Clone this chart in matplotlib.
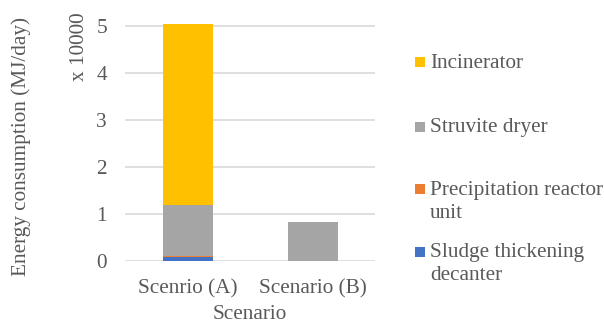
import matplotlib
matplotlib.use("Agg")
import matplotlib.pyplot as plt
from matplotlib.patches import Rectangle
import numpy as np

plt.rcParams['font.family'] = ['Liberation Serif', 'DejaVu Serif']

categories = ["Scenrio (A)", "Scenario (B)"]
series_names = ["Sludge thickening\ndecanter", "Precipitation reactor\nunit",
                "Struvite dryer", "Incinerator"]
sludge = [0.07, 0.0]
precipitation = [0.03, 0.0]
struvite = [1.09, 0.83]
incinerator = [3.86, 0.0]
yticks = [0, 1, 2, 3, 4, 5]

colors = ["#4472C4", "#ED7D31", "#A5A5A5", "#FFC000"]
text_color = "#595959"
W, H = 604, 327
fs = 15.3

fig = plt.figure(figsize=(W / 100, H / 100), dpi=100)
ax = fig.add_axes([125 / W, (H - 260.7) / H, 250 / W, 5.1 * 46.9 / H])

x = np.arange(len(categories))
data = [sludge, precipitation, struvite, incinerator]
bottom = np.zeros(len(categories))
for vals, c in zip(data, colors):
    ax.bar(x, vals, width=0.4, bottom=bottom, color=c, zorder=3, linewidth=0)
    bottom += np.array(vals)

ax.set_xlim(-0.5, 1.5)
ax.set_ylim(0, 5.1)
ax.set_yticks(yticks)
ax.set_yticklabels([str(t) for t in yticks])
ax.set_xticks(x)
ax.set_xticklabels(categories)
ax.yaxis.grid(True, color="#d9d9d9", linewidth=1.2, zorder=0)
ax.set_axisbelow(True)
for s in ax.spines.values():
    s.set_visible(False)
ax.tick_params(axis='both', length=0, labelsize=fs, labelcolor=text_color)
ax.tick_params(axis='y', pad=13)
ax.tick_params(axis='x', pad=13)
ax.set_xlabel("Scenario", fontsize=fs, color=text_color, labelpad=5)

fig.text(21 / W, 1 - 146 / H, "Energy consumption (MJ/day)", rotation=90,
         ha='center', va='center', fontsize=fs, color=text_color)
fig.text(80 / W, 1 - 47 / H, "x 10000", rotation=90,
         ha='center', va='center', fontsize=fs, color=text_color)

# legend (top to bottom: reversed series order)
line_centers = [[252, 275], [189, 212], [127], [62]]
sq = 10.5
for name, c, ys in zip(series_names, colors, line_centers):
    y0 = ys[0]
    fig.add_artist(Rectangle((415 / W, 1 - (y0 + sq / 2) / H), sq / W, sq / H,
                             transform=fig.transFigure, color=c, linewidth=0))
    for line, yc in zip(name.split("\n"), ys):
        fig.text(430 / W, 1 - (yc + 1) / H, line, ha='left', va='center',
                 fontsize=fs, color=text_color)

fig.savefig("out.png", dpi=100)
